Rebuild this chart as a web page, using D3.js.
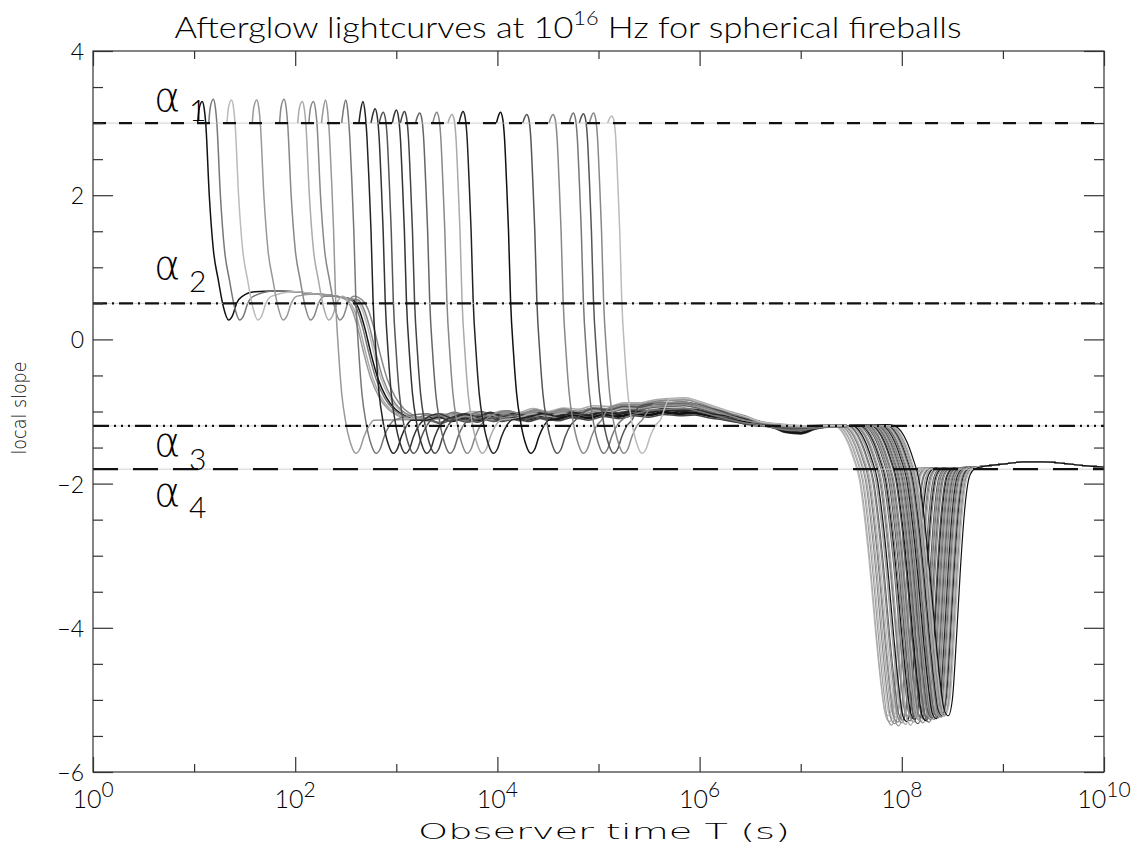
<!DOCTYPE html>
<html>
<head>
<meta charset="utf-8">
<script src="https://cdn.jsdelivr.net/npm/d3@7"></script>
<style>
  body { margin: 0; background: #fff; }
  text { font-family: Lato, "DejaVu Sans", sans-serif; font-weight: 300; fill: #000; }
</style>
</head>
<body>
<svg id="chart" width="1139" height="847"></svg>
<script>
// ---------------- data ----------------
// axis ranges and ticks
const xExpMin = 0, xExpMax = 10;
const xTickExps = [0, 1, 2, 3, 4, 5, 6, 7, 8, 9, 10];
const xLabelExps = [0, 2, 4, 6, 8, 10];
const yMin = -6, yMax = 4;
const yMajorTicks = [-6, -4, -2, 0, 2, 4];
const yMinorTicks = [-5.5, -5, -4.5, -3.5, -3, -2.5, -1.5, -1, -0.5, 0.5, 1, 1.5, 2.5, 3, 3.5];

// reference slopes alpha_1 .. alpha_4
const refNames = ["1", "2", "3", "4"];
const refSlopes = [3.0, 0.5, -1.2, -1.8];

// early-time curves: log10 T of the initial hump, its slope, grey level, band variant
const earlyPeakLogT = [1.08, 1.19, 1.37, 1.62, 1.89, 2.07, 2.18, 2.30, 2.50, 2.67, 2.79, 2.87, 3.00,
                       3.08, 3.23, 3.40, 3.55, 3.66, 4.03, 4.29, 4.55, 4.75, 4.85, 4.95, 5.13];
const earlyPeakSlope = [3.3, 3.33, 3.32, 3.32, 3.33, 3.3, 3.3, 3.32, 3.32, 3.3, 3.2, 3.15, 3.18,
                        3.16, 3.14, 3.15, 3.12, 3.16, 3.15, 3.12, 3.12, 3.14, 3.13, 3.14, 3.1];
const earlyShade = ["#111", "#777", "#bbb", "#999", "#888", "#aaa", "#888", "#999", "#777", "#222",
                    "#333", "#555", "#333", "#444", "#666", "#888", "#aaa", "#222", "#111", "#555",
                    "#888", "#777", "#555", "#888", "#bbb"];
const earlyBand = [0, 1, 2, 1, 1, 2, 1, 2, 1, 0, 0, 1, 0, 0, 1, 1, 2, 0, 0, 1, 2, 1, 1, 2, 2];
const earlyBandShift = [0.00, 0.03, -0.02, -0.04, 0.02, 0.04, -0.03, 0.01, 0.05, -0.02, 0.03, -0.05,
                        0.04, -0.04, 0.00, 0.05, -0.03, 0.02, -0.01, 0.04, 0.02, -0.04, 0.05, -0.02, 0.03];
// curves whose first drop settles on alpha_2, and where they leave it
const groupACount = 7;
const alpha2BreakLogT = [2.57, 2.55, 2.60, 2.50, 2.62, 2.52, 2.66];

// shapes: [offset in dex, local slope]
const dropToAlpha2 = [[-0.045, 3.0], [-0.03, 3.2], [0, 3.3], [0.02, 3.2], [0.035, 3.0], [0.07, 2.0],
                      [0.11, 1.25], [0.16, 0.82], [0.21, 0.45], [0.26, 0.27], [0.30, 0.33],
                      [0.34, 0.5], [0.40, 0.6]];
const dropToAlpha3 = [[-0.04, 3.0], [-0.02, 3.1], [0, 3.15], [0.02, 3.08], [0.04, 2.8], [0.06, 2.2],
                      [0.08, 1.5], [0.10, 0.55], [0.13, -0.2], [0.16, -0.75], [0.20, -1.15],
                      [0.25, -1.45], [0.30, -1.58], [0.34, -1.52], [0.38, -1.35], [0.43, -1.2],
                      [0.48, -1.12]];
// alpha_2 plateau (absolute log10 T) and the decline that ends it (offset from the break)
const alpha2Plateau = [[1.45, 0.6], [1.6, 0.66], [1.8, 0.67], [2.0, 0.66], [2.2, 0.63],
                       [2.4, 0.6], [2.55, 0.56], [2.7, 0.5]];
const alpha2Decline = [[0, 0.55], [0.06, 0.42], [0.12, 0.15], [0.18, -0.2], [0.25, -0.55],
                       [0.33, -0.8], [0.42, -0.97], [0.52, -1.06], [0.62, -1.1]];
// intermediate band (absolute log10 T), three variants
const bandDark = [[3.3, -1.1], [3.42, -1.06], [3.55, -1.12], [3.68, -1.07], [3.8, -1.11], [3.93, -1.05],
                  [4.05, -1.1], [4.18, -1.06], [4.3, -1.1], [4.45, -1.05], [4.6, -1.09], [4.75, -1.04],
                  [4.9, -1.08], [5.05, -1.03], [5.2, -1.06], [5.35, -1.02], [5.5, -1.04], [5.65, -1.0],
                  [5.8, -1.02], [5.95, -1.01], [6.1, -1.05], [6.25, -1.08], [6.4, -1.12], [6.55, -1.16],
                  [6.7, -1.2], [6.85, -1.28], [7.0, -1.3], [7.15, -1.23], [7.3, -1.2], [7.45, -1.2]];
const bandGrey = [[3.3, -1.08], [3.43, -1.12], [3.57, -1.06], [3.7, -1.1], [3.83, -1.05], [3.96, -1.09],
                  [4.1, -1.04], [4.23, -1.08], [4.37, -1.03], [4.5, -1.07], [4.65, -1.02], [4.8, -1.05],
                  [4.95, -1.0], [5.1, -1.02], [5.25, -0.97], [5.4, -0.98], [5.55, -0.94], [5.7, -0.93],
                  [5.85, -0.92], [6.0, -0.96], [6.15, -1.02], [6.3, -1.07], [6.45, -1.12], [6.6, -1.17],
                  [6.75, -1.22], [6.9, -1.25], [7.05, -1.24], [7.2, -1.21], [7.35, -1.2], [7.45, -1.2]];
const bandLight = [[3.3, -1.12], [3.45, -1.07], [3.6, -1.1], [3.75, -1.04], [3.9, -1.08], [4.05, -1.03],
                   [4.2, -1.06], [4.35, -1.0], [4.5, -1.04], [4.65, -0.99], [4.8, -1.01], [4.95, -0.96],
                   [5.1, -0.97], [5.25, -0.92], [5.4, -0.92], [5.55, -0.88], [5.7, -0.86], [5.85, -0.85],
                   [6.0, -0.9], [6.15, -0.97], [6.3, -1.04], [6.45, -1.1], [6.6, -1.15], [6.75, -1.18],
                   [6.9, -1.2], [7.05, -1.21], [7.2, -1.2], [7.35, -1.2], [7.45, -1.2]];
const bands = [bandDark, bandGrey, bandLight];

// late-time curves: log10 T where each leaves alpha_3, depth of the dip, grey level
const lateDropLogT = [7.34, 7.35, 7.37, 7.38, 7.40, 7.41, 7.43, 7.44, 7.45, 7.47, 7.48, 7.50, 7.51,
                      7.52, 7.54, 7.55, 7.56, 7.58, 7.59, 7.60, 7.61, 7.63, 7.64, 7.65, 7.66, 7.67,
                      7.68, 7.70, 7.71, 7.72, 7.73, 7.74, 7.75, 7.76, 7.77, 7.78, 7.79, 7.80, 7.81,
                      7.82, 7.83, 7.84, 7.85, 7.86, 7.87, 7.88, 7.89, 7.90, 7.91, 7.93];
const lateMinSlope = [-5.22, -5.30, -5.35, -5.26, -5.33, -5.24, -5.31, -5.36, -5.25, -5.32, -5.28,
                      -5.21, -5.34, -5.30, -5.23, -5.29, -5.35, -5.26, -5.31, -5.27, -5.22, -5.33,
                      -5.28, -5.24, -5.30, -5.25, -5.32, -5.27, -5.29, -5.21, -5.26, -5.31, -5.23,
                      -5.28, -5.25, -5.22, -5.27, -5.24, -5.26, -5.21, -5.25, -5.23, -5.20, -5.24,
                      -5.22, -5.19, -5.23, -5.21, -5.18, -5.22];
const lateShade = ["#bbb", "#aaa", "#999", "#bbb", "#888", "#aaa", "#777", "#999", "#bbb", "#888",
                   "#666", "#999", "#aaa", "#111", "#888", "#777", "#aaa", "#666", "#999", "#111",
                   "#888", "#555", "#999", "#777", "#aaa", "#666", "#888", "#555", "#111", "#999",
                   "#777", "#666", "#aaa", "#888", "#555", "#999", "#777", "#aaa", "#111", "#888",
                   "#666", "#999", "#bbb", "#777", "#222", "#999", "#aaa", "#888", "#bbb", "#111"];
const lateLead = [[6.5, -1.15], [6.65, -1.18], [6.8, -1.2], [6.95, -1.22], [7.1, -1.21], [7.25, -1.2],
                  [7.4, -1.2], [7.55, -1.19], [7.7, -1.19], [7.85, -1.18], [8.0, -1.18]];
const lateDip = [[0, -1.2], [0.06, -1.27], [0.12, -1.42], [0.18, -1.65], [0.24, -1.95], [0.30, -2.6],
                 [0.35, -3.3], [0.40, -4.1], [0.45, -4.8], [0.49, -5.2], [0.53, -5.28], [0.57, -5.05],
                 [0.61, -4.2], [0.65, -3.2], [0.69, -2.4], [0.73, -1.95], [0.77, -1.82], [0.82, -1.78]];
const lateTail = [[8.0, -1.8], [8.2, -1.79], [8.4, -1.79], [8.6, -1.78], [8.8, -1.76], [9.0, -1.73],
                  [9.2, -1.7], [9.4, -1.7], [9.6, -1.72], [9.8, -1.75], [10.0, -1.77]];

// ---------------- layout ----------------
const plot = { left: 93, right: 1104, top: 51, bottom: 772 };
const svg = d3.select("#chart");

const x = d3.scaleLog().domain([Math.pow(10, xExpMin), Math.pow(10, xExpMax)]).range([plot.left, plot.right]);
const y = d3.scaleLinear().domain([yMin, yMax]).range([plot.bottom, plot.top]);
const xl = t => x(Math.pow(10, t));

const line = d3.line().x(d => xl(d[0])).y(d => y(d[1])).curve(d3.curveMonotoneX);

svg.append("defs").append("clipPath").attr("id", "plotclip")
  .append("rect").attr("x", plot.left).attr("y", plot.top)
  .attr("width", plot.right - plot.left).attr("height", plot.bottom - plot.top);

const curves = svg.append("g").attr("clip-path", "url(#plotclip)");

function pushAfter(pts, t, v, gap) {
  if (t > pts[pts.length - 1][0] + gap) pts.push([t, v]);
}

function earlyCurve(i) {
  const t0 = earlyPeakLogT[i];
  const pk = earlyPeakSlope[i];
  const pts = [];
  const shape = i < groupACount ? dropToAlpha2 : dropToAlpha3;
  const shapePeak = d3.max(shape, d => d[1]);
  shape.forEach(([d, v]) => {
    const vv = v > 3.0 ? 3.0 + (v - 3.0) * (pk - 3.0) / (shapePeak - 3.0) : v;
    pts.push([t0 + d, vv]);
  });
  if (i < groupACount) {
    const br = alpha2BreakLogT[i];
    alpha2Plateau.forEach(([t, v]) => { if (t < br - 0.03) pushAfter(pts, t, v, 0.04); });
    alpha2Decline.forEach(([d, v]) => pushAfter(pts, br + d, v, 0.02));
  }
  const sh = earlyBandShift[i];
  bands[earlyBand[i]].forEach(([t, v]) => pushAfter(pts, t, v + sh * (t < 6.6 ? 1 : 0.3), 0.06));
  return pts;
}

function lateCurve(j) {
  const t0 = lateDropLogT[j];
  const depth = lateMinSlope[j];
  const shapeMin = d3.min(lateDip, d => d[1]);
  const pts = [];
  lateLead.forEach(([t, v]) => { if (t < t0 - 0.04) pts.push([t, v]); });
  lateDip.forEach(([d, v]) => {
    const vv = v < -1.8 ? -1.8 + (v + 1.8) * (depth + 1.8) / (shapeMin + 1.8) : v;
    pts.push([t0 + d, vv]);
  });
  lateTail.forEach(([t, v]) => pushAfter(pts, t, v, 0.05));
  return pts;
}

// late bundle first, early curves above it
curves.selectAll("path.late").data(lateDropLogT.map((_, j) => j)).join("path")
  .attr("class", "late")
  .attr("d", j => line(lateCurve(j)))
  .attr("fill", "none")
  .attr("stroke", j => lateShade[j])
  .attr("stroke-width", 1.2);

curves.selectAll("path.early").data(earlyPeakLogT.map((_, i) => i)).join("path")
  .attr("class", "early")
  .attr("d", i => line(earlyCurve(i)))
  .attr("fill", "none")
  .attr("stroke", i => earlyShade[i])
  .attr("stroke-width", 1.5);

// reference slopes
const refDash = ["13,13", "14,5,2,5", "16,5,2,5,2,5,2,5", "25,15"];
const refG = svg.append("g").attr("clip-path", "url(#plotclip)");
refSlopes.forEach((s, k) => {
  refG.append("line")
    .attr("x1", plot.left).attr("x2", plot.right)
    .attr("y1", y(s)).attr("y2", y(s))
    .attr("stroke", "#c4c4c4").attr("stroke-width", 0.8);
  refG.append("line")
    .attr("x1", plot.left).attr("x2", plot.right)
    .attr("y1", y(s)).attr("y2", y(s))
    .attr("stroke", "#111").attr("stroke-width", 2.2)
    .attr("stroke-dasharray", refDash[k]);
});

// alpha labels
const alphaDy = [-12, -24, 30, 37];
const subDy = [-2, -11, 44, 49];
refSlopes.forEach((s, k) => {
  svg.append("text")
    .attr("x", 154).attr("y", y(s) + alphaDy[k])
    .style("font-size", "40px").style("font-family", "'DejaVu Sans', sans-serif")
    .style("font-weight", 200)
    .text("\u03b1");
  svg.append("text")
    .attr("x", 189).attr("y", y(s) + subDy[k])
    .style("font-size", "30px")
    .text(refNames[k]);
});

// frame
svg.append("rect")
  .attr("x", plot.left).attr("y", plot.top)
  .attr("width", plot.right - plot.left).attr("height", plot.bottom - plot.top)
  .attr("fill", "none").attr("stroke", "#333").attr("stroke-width", 1.2);

// ticks (inward on all four sides)
function tickGroup(axisGen, tx, ty) {
  const g = svg.append("g").attr("transform", `translate(${tx},${ty})`).call(axisGen);
  g.select(".domain").remove();
  g.selectAll("text").remove();
  g.selectAll("line").attr("stroke", "#333").attr("stroke-width", 1.2);
  return g;
}
const xMajor = xTickExps.filter(e => e % 2 === 0).map(e => Math.pow(10, e));
const xMinor = xTickExps.filter(e => e % 2 !== 0).map(e => Math.pow(10, e));
tickGroup(d3.axisBottom(x).tickValues(xMajor).tickSize(-15), 0, plot.bottom);
tickGroup(d3.axisBottom(x).tickValues(xMinor).tickSize(-8), 0, plot.bottom);
tickGroup(d3.axisTop(x).tickValues(xMajor).tickSize(-15), 0, plot.top);
tickGroup(d3.axisTop(x).tickValues(xMinor).tickSize(-8), 0, plot.top);
tickGroup(d3.axisLeft(y).tickValues(yMajorTicks).tickSize(-20), plot.left, 0);
tickGroup(d3.axisLeft(y).tickValues(yMinorTicks).tickSize(-10), plot.left, 0);
tickGroup(d3.axisRight(y).tickValues(yMajorTicks).tickSize(-20), plot.right, 0);
tickGroup(d3.axisRight(y).tickValues(yMinorTicks).tickSize(-10), plot.right, 0);

// y tick labels
svg.append("g").selectAll("text").data(yMajorTicks).join("text")
  .attr("x", plot.left - 9).attr("y", d => y(d) + 9)
  .attr("text-anchor", "end")
  .style("font-size", "23px")
  .text(d => d < 0 ? "\u2212" + Math.abs(d) : String(d));

// x tick labels: 10^n
xLabelExps.forEach(e => {
  const t = svg.append("text")
    .attr("x", xl(e)).attr("y", 808)
    .attr("text-anchor", "middle")
    .style("font-size", "25px");
  t.append("tspan").text("10");
  t.append("tspan").attr("dy", -11).style("font-size", "21px").text(String(e));
});

// title
const title = svg.append("text")
  .attr("x", 568).attr("y", 38)
  .attr("text-anchor", "middle")
  .attr("textLength", 787).attr("lengthAdjust", "spacingAndGlyphs")
  .style("font-size", "30px");
title.append("tspan").text("Afterglow lightcurves at 10");
title.append("tspan").attr("dy", -13).style("font-size", "19px").text("16");
title.append("tspan").attr("dy", 13).text(" Hz for spherical fireballs");

// axis titles
svg.append("text")
  .attr("x", 604).attr("y", 839)
  .attr("text-anchor", "middle")
  .attr("textLength", 372).attr("lengthAdjust", "spacingAndGlyphs")
  .style("font-family", "'DejaVu Sans', sans-serif")
  .style("font-weight", 200)
  .style("font-size", "22px")
  .text("Observer time T (s)");

svg.append("text")
  .attr("transform", `translate(26,408) rotate(-90)`)
  .attr("text-anchor", "middle")
  .attr("textLength", 93).attr("lengthAdjust", "spacingAndGlyphs")
  .style("font-family", "'DejaVu Sans', sans-serif")
  .style("font-weight", 200)
  .style("font-size", "19px")
  .text("local slope");
</script>
</body>
</html>
